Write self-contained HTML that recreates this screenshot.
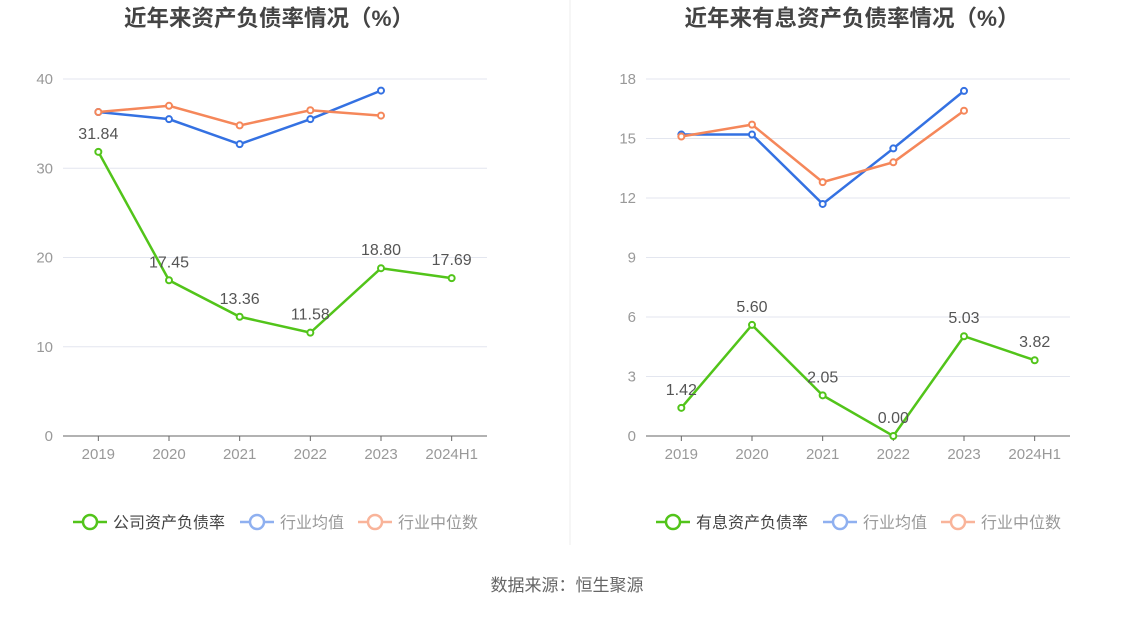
<!DOCTYPE html>
<html><head><meta charset="utf-8"><style>
body{margin:0;background:#fff;}
svg{font-family:"Liberation Sans","Noto Sans CJK SC",sans-serif;}
</style></head><body>
<svg id="c" width="1134" height="612" xmlns="http://www.w3.org/2000/svg"></svg>
<script>
const categories=["2019","2020","2021","2022","2023","2024H1"];
const leftCompany=[31.84,17.45,13.36,11.58,18.80,17.69];
const leftAvg=[36.3,35.5,32.7,35.5,38.7];
const leftMedian=[36.3,37.0,34.8,36.5,35.9];
const leftTicks=[0,10,20,30,40];
const rightCompany=[1.42,5.60,2.05,0.00,5.03,3.82];
const rightAvg=[15.2,15.2,11.7,14.5,17.4];
const rightMedian=[15.1,15.7,12.8,13.8,16.4];
const rightTicks=[0,3,6,9,12,15,18];
const NS="http://www.w3.org/2000/svg";
const svg=document.getElementById('c');
function el(t,a,p){const e=document.createElementNS(NS,t);for(const k in a)e.setAttribute(k,a[k]);(p||svg).appendChild(e);return e;}
const G="#52c41a",B="#3471e2",O="#f5875a";
function panel(x0,x1,max,ticks,comp,avg,med,title,names,pfx){
  const g=el('g',{});
  
  
  const yT=79,yB=436;
  const y=v=>yB-(v/max)*(yB-yT);
  const bw=(x1-x0)/categories.length;
  const x=i=>x0+bw*(i+0.5);
  const t=el('text',{x:(x0+x1)/2-6,y:26,'text-anchor':'middle','font-size':22.5,'font-weight':'bold',fill:'#444'},g);
  t.textContent=title;
  
  
  ticks.forEach(v=>{
    if(v>0){const l=el('line',{x1:x0,x2:x1,y1:y(v),y2:y(v),stroke:'#e3e6ef'},g);
    
    }
    const tl=el('text',{x:x0-10,y:y(v)+5,'text-anchor':'end','font-size':15,fill:'#999'},g);
    tl.textContent=v;
    
    
  });
  const ax=el('line',{x1:x0,x2:x1,y1:yB,y2:yB,stroke:'#666'},g);
  
  
  categories.forEach((c,i)=>{
    el('line',{x1:x(i),x2:x(i),y1:yB,y2:yB+5,stroke:'#666'},g);
    const tl=el('text',{x:x(i),y:459,'text-anchor':'middle','font-size':15,fill:'#999'},g);
    tl.textContent=c;
    
    
  });
  function series(d,col,nm,labels){
    const pts=d.map((v,i)=>x(i)+','+y(v)).join(' ');
    const pl=el('polyline',{points:pts,fill:'none',stroke:col,'stroke-width':2.5},g);
    
    
    d.forEach((v,i)=>{
      const c=el('circle',{cx:x(i),cy:y(v),r:3,fill:'#fff',stroke:col,'stroke-width':2},g);
      
      
      if(labels){const l=el('text',{x:x(i),y:y(v)-13,'text-anchor':'middle','font-size':16,fill:'#555'},g);
        l.textContent=v.toFixed(2);
        
        }
    });
  }
  series(avg,B,pfx+'-avg',false);
  series(med,O,pfx+'-median',false);
  series(comp,G,pfx+'-company',true);
  const lx=[x0+10,x0+177,x0+295];
  const cols=[G,"#8fb0f0","#f9b49a"];
  names.forEach((n,i)=>{
    const lg=el('g',{},g);
    
    
    el('line',{x1:lx[i],x2:lx[i]+34,y1:522,y2:522,stroke:cols[i],'stroke-width':2.5},lg);
    el('circle',{cx:lx[i]+17,cy:522,r:7,fill:'#fff',stroke:cols[i],'stroke-width':2.5},lg);
    const tt=el('text',{x:lx[i]+40,y:528,'font-size':16,fill:i==0?'#444':'#999'},lg);
    tt.textContent=n;
  });
}
panel(63,487,40,leftTicks,leftCompany,leftAvg,leftMedian,"近年来资产负债率情况（%）",["公司资产负债率","行业均值","行业中位数"],'left');
panel(646,1070,18,rightTicks,rightCompany,rightAvg,rightMedian,"近年来有息资产负债率情况（%）",["有息资产负债率","行业均值","行业中位数"],'right');
const d=el('line',{x1:570,x2:570,y1:0,y2:545,stroke:'#eee'});


const s=el('text',{x:567,y:591,'text-anchor':'middle','font-size':17,fill:'#666'});
s.textContent="数据来源：恒生聚源";


</script>
</body></html>
